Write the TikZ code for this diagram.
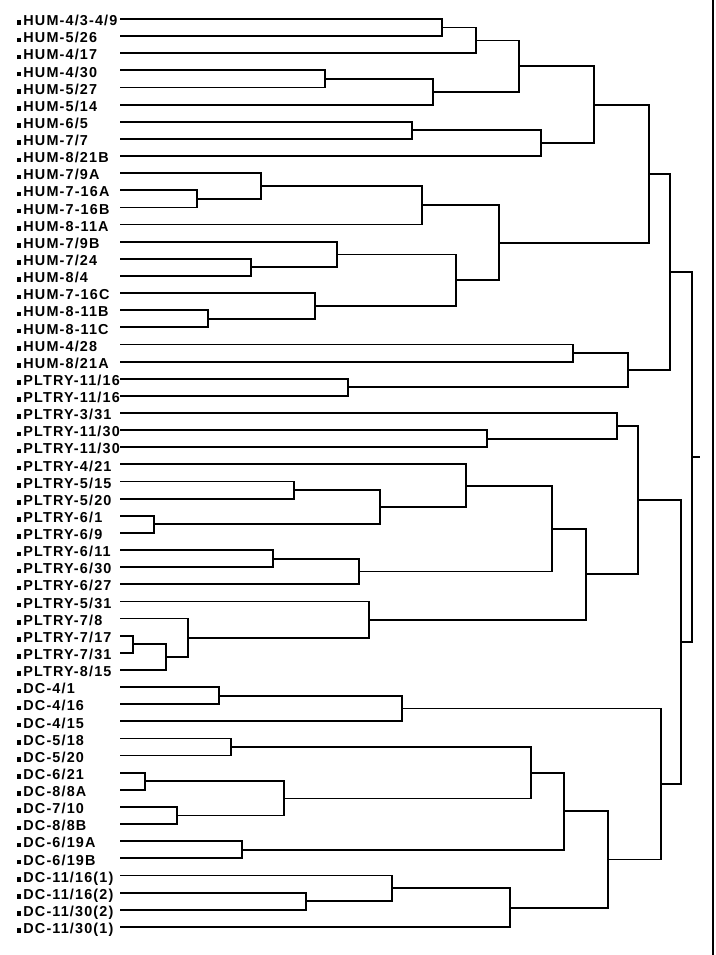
\documentclass[tikz,border=0pt]{standalone}
\usepackage{fontspec}
\usepackage{tikz}
\usetikzlibrary{calc}
\newfontfamily\leaffont[LetterSpace=8]{Liberation Sans}
\tikzset{
  leaf/.style={anchor=base west, inner sep=0pt, font=\fontsize{10.8pt}{11pt}\leaffont\bfseries},
  branch/.style={draw=black, line width=1.35pt, line join=miter},
  frame/.style={draw=black, line width=1pt}
}

\begin{document}
\begin{tikzpicture}[x=0.75pt, y=-0.75pt]
\useasboundingbox (0,0) rectangle (715,955);
\foreach \lbl [count=\i] in {{HUM-4/3-4/9},{HUM-5/26},{HUM-4/17},{HUM-4/30},{HUM-5/27},{HUM-5/14},{HUM-6/5},{HUM-7/7},{HUM-8/21B},
  {HUM-7/9A},{HUM-7-16A},{HUM-7-16B},{HUM-8-11A},{HUM-7/9B},{HUM-7/24},{HUM-8/4},{HUM-7-16C},{HUM-8-11B},{HUM-8-11C},
  {HUM-4/28},{HUM-8/21A},{PLTRY-11/16},{PLTRY-11/16},{PLTRY-3/31},{PLTRY-11/30},{PLTRY-11/30},{PLTRY-4/21},{PLTRY-5/15},
  {PLTRY-5/20},{PLTRY-6/1},{PLTRY-6/9},{PLTRY-6/11},{PLTRY-6/30},{PLTRY-6/27},{PLTRY-5/31},{PLTRY-7/8},{PLTRY-7/17},
  {PLTRY-7/31},{PLTRY-8/15},{DC-4/1},{DC-4/16},{DC-4/15},{DC-5/18},{DC-5/20},{DC-6/21},{DC-8/8A},{DC-7/10},{DC-8/8B},
  {DC-6/19A},{DC-6/19B},{DC-11/16(1)},{DC-11/16(2)},{DC-11/30(2)},{DC-11/30(1)}}{
  \node[leaf] (t\i) at (16.5,{25.7+(\i-1)*17.13}) {\rule[0.5pt]{3.4pt}{3.4pt}\hspace{1.6pt}\lbl};
  \coordinate (l\i) at (120,{19+(\i-1)*17.13});
}
\foreach \n/\x/\a/\b in {m1/442/l1/l2, m2/476/m1/l3, m3/325/l4/l5, m4/433/m3/l6, m5/519/m2/m4,
  m6/412/l7/l8, m7/541/m6/l9, m8/594/m5/m7, m9/197/l11/l12, m10/261/l10/m9, m11/422/m10/l13,
  m12/251/l15/l16, m13/337/l14/m12, m14/208/l18/l19, m15/315/l17/m14, m16/456/m13/m15,
  m17/499/m11/m16, m18/649/m8/m17, m19/573/l20/l21, m20/348/l22/l23, m21/628/m19/m20,
  m22/670/m18/m21, m23/487/l25/l26, m24/617/l24/m23, m25/294/l28/l29, m26/154/l30/l31,
  m27/380/m25/m26, m28/466/l27/m27, m29/273/l32/l33, m30/359/m29/l34, m31/552/m28/m30,
  m32/133/l37/l38, m33/166/m32/l39, m34/188/l36/m33, m35/369/l35/m34, m36/586/m31/m35,
  m37/638/m24/m36, m38/219/l40/l41, m39/402/m38/l42, m40/231/l43/l44, m41/145/l45/l46,
  m42/177/l47/l48, m43/284/m41/m42, m44/531/m40/m43, m45/242/l49/l50, m46/564/m44/m45,
  m47/306/l52/l53, m48/392/l51/m47, m49/510/m48/l54, m50/608/m46/m49, m51/661/m39/m50,
  m52/681/m37/m51, root/692/m22/m52}{
  \coordinate (c\n) at ($(\a)!0.5!(\b)$);
  \coordinate (\n) at (c\n -| \x,0);
  \draw[branch] (\a) -| (\n) |- (\b);
}
\coordinate (stub) at ($(root)+(8,0)$);
\draw[branch] (root) -- (stub);
\draw[frame] (713,0) -- (713,955);
\end{tikzpicture}
\end{document}
